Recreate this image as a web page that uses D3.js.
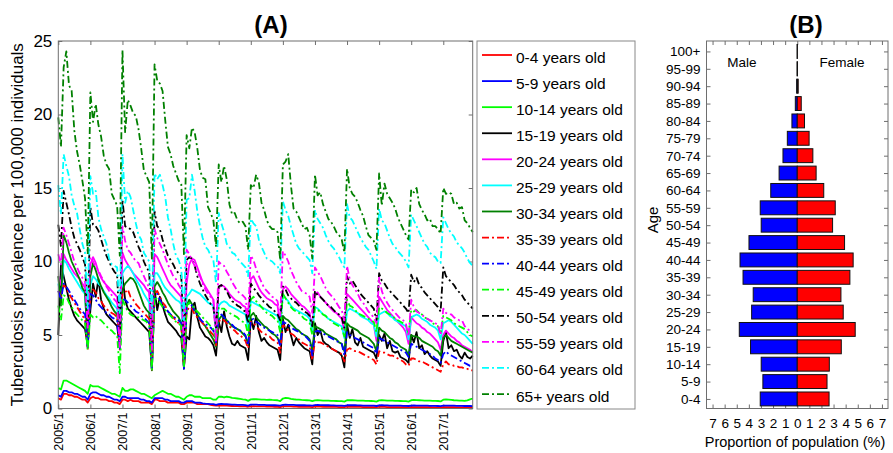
<!DOCTYPE html>
<html>
<head>
<meta charset="utf-8">
<script src="https://cdn.jsdelivr.net/npm/d3@7"></script>
<style>
  body { margin: 0; background: #fff; }
  svg { display: block; font-family: Arial, "Liberation Sans", sans-serif; }
</style>
</head>
<body>
<svg id="chart" width="893" height="453"></svg>
<script>
// ---- panel A data: monthly prevalence per 100,000, Jan 2005 .. Dec 2017 (one row per year)
const tickLabels = ["2005/1","2006/1","2007/1","2008/1","2009/1","2010/1","2011/1","2012/1","2013/1","2014/1","2015/1","2016/1","2017/1"];
const ageGroupNames = ["0-4 years old","5-9 years old","10-14 years old","15-19 years old","20-24 years old","25-29 years old","30-34 years old","35-39 years old","40-44 years old","45-49 years old","50-54 years old","55-59 years old","60-64 years old","65+ years old"];

const age0_4 = [
  0.7,0.6,1.0,1.0,0.9,0.9,0.8,0.8,0.7,0.6,0.6,0.4,
  0.7,0.8,0.7,0.7,0.6,0.6,0.6,0.5,0.5,0.4,0.4,0.3,
  0.6,0.6,0.5,0.6,0.5,0.5,0.5,0.4,0.4,0.4,0.4,0.3,
  0.6,0.6,0.5,0.5,0.5,0.4,0.4,0.4,0.4,0.4,0.3,0.3,
  0.4,0.4,0.4,0.4,0.3,0.3,0.3,0.3,0.3,0.25,0.22,0.2,
  0.2,0.22,0.2,0.19,0.18,0.17,0.16,0.16,0.15,0.15,0.14,0.12,
  0.15,0.16,0.15,0.15,0.14,0.14,0.13,0.13,0.13,0.12,0.12,0.1,
  0.14,0.15,0.14,0.14,0.13,0.13,0.12,0.12,0.12,0.11,0.11,0.1,
  0.13,0.13,0.13,0.12,0.12,0.12,0.11,0.11,0.11,0.1,0.1,0.09,
  0.12,0.12,0.12,0.11,0.11,0.11,0.1,0.1,0.1,0.1,0.09,0.09,
  0.11,0.11,0.11,0.1,0.1,0.1,0.1,0.09,0.09,0.09,0.09,0.08,
  0.1,0.1,0.1,0.1,0.09,0.09,0.09,0.09,0.08,0.08,0.08,0.08,
  0.09,0.1,0.09,0.09,0.09,0.08,0.08,0.08,0.08,0.08,0.07,0.07];
const age5_9 = [
  0.9,0.8,1.2,1.2,1.1,1.1,1.0,1.0,0.9,0.8,0.8,0.6,
  1.0,1.1,1.1,1.0,0.9,0.9,0.8,0.8,0.7,0.6,0.6,0.5,
  0.8,0.8,0.7,0.7,0.7,0.7,0.7,0.6,0.6,0.5,0.5,0.4,
  0.7,0.7,0.7,0.7,0.6,0.6,0.5,0.5,0.5,0.5,0.4,0.4,
  0.5,0.5,0.5,0.4,0.4,0.4,0.35,0.33,0.32,0.3,0.3,0.25,
  0.3,0.32,0.3,0.29,0.28,0.27,0.26,0.25,0.25,0.24,0.23,0.2,
  0.26,0.27,0.26,0.25,0.25,0.24,0.23,0.23,0.22,0.22,0.21,0.19,
  0.25,0.26,0.25,0.24,0.24,0.23,0.22,0.22,0.22,0.21,0.21,0.19,
  0.23,0.24,0.23,0.23,0.22,0.22,0.21,0.21,0.2,0.2,0.2,0.18,
  0.22,0.23,0.22,0.22,0.21,0.21,0.2,0.2,0.2,0.19,0.19,0.17,
  0.21,0.22,0.21,0.21,0.2,0.2,0.19,0.19,0.19,0.18,0.18,0.17,
  0.2,0.21,0.2,0.2,0.19,0.19,0.19,0.18,0.18,0.18,0.17,0.16,
  0.19,0.2,0.2,0.19,0.19,0.18,0.18,0.18,0.17,0.17,0.17,0.16];
const age10_14 = [
  1.4,1.3,1.9,1.9,1.8,1.7,1.6,1.5,1.4,1.3,1.2,1.0,
  1.6,1.5,1.5,1.5,1.4,1.3,1.2,1.1,1.0,1.0,0.9,0.8,
  1.4,1.2,1.2,1.3,1.3,1.2,1.1,1.0,1.0,0.9,0.8,0.7,
  0.9,1.0,1.1,1.2,1.1,1.0,1.0,0.9,0.8,0.8,0.7,0.6,
  0.8,0.9,0.9,0.8,0.8,0.8,0.7,0.7,0.7,0.7,0.6,0.6,
  0.8,0.8,0.75,0.8,0.78,0.72,0.7,0.68,0.65,0.62,0.6,0.52,
  0.62,0.64,0.63,0.62,0.6,0.6,0.59,0.6,0.58,0.57,0.56,0.5,
  0.68,0.72,0.7,0.66,0.63,0.61,0.6,0.58,0.57,0.56,0.55,0.5,
  0.55,0.56,0.55,0.54,0.53,0.53,0.52,0.52,0.51,0.5,0.5,0.47,
  0.56,0.57,0.56,0.55,0.54,0.53,0.53,0.52,0.52,0.51,0.5,0.47,
  0.55,0.56,0.55,0.54,0.54,0.53,0.52,0.52,0.51,0.5,0.5,0.47,
  0.56,0.58,0.57,0.56,0.55,0.54,0.53,0.53,0.52,0.52,0.51,0.48,
  0.6,0.62,0.6,0.58,0.56,0.55,0.54,0.53,0.52,0.55,0.62,0.68];
const age15_19 = [
  5.0,9.8,9.0,8.2,7.4,6.8,6.3,6.0,5.8,5.6,5.4,4.3,
  6.7,8.5,7.6,8.8,7.4,6.8,6.4,6.2,6.0,5.8,5.6,4.2,
  9.0,7.4,6.8,6.6,6.4,6.2,6.0,5.8,5.6,5.4,5.2,2.7,
  8.1,6.7,7.6,7.0,6.4,5.9,5.7,5.5,5.3,5.0,4.8,2.8,
  4.9,4.7,6.9,7.2,6.2,5.5,5.2,4.9,4.8,4.6,4.3,3.6,
  5.9,5.2,6.6,5.6,4.9,4.4,4.3,4.6,4.3,4.2,4.1,3.3,
  6.1,5.4,6.3,5.2,4.6,4.8,4.5,4.3,4.2,4.1,4.0,3.3,
  6.1,5.2,5.7,5.0,4.3,4.8,4.5,4.3,4.1,4.0,3.9,3.0,
  5.8,5.0,5.3,4.6,4.4,4.3,4.1,4.0,3.9,3.8,3.6,2.8,
  5.7,4.8,5.4,4.5,4.3,4.8,4.2,4.1,4.0,3.9,3.8,3.4,
  5.0,4.6,5.1,4.1,4.6,3.9,3.8,3.9,3.5,3.4,3.3,3.1,
  5.0,4.5,5.2,4.1,4.3,3.7,3.9,3.6,3.4,3.3,3.2,2.9,
  4.6,5.2,4.1,4.3,3.9,4.0,3.6,3.4,3.8,3.5,3.4,3.6];
const age20_24 = [
  9.0,8.4,10.5,10.1,9.8,9.5,9.2,9.0,8.8,8.5,8.2,4.5,
  9.8,10.3,9.9,9.3,8.9,8.6,8.4,8.2,8.0,7.8,7.6,4.1,
  10.6,10.1,9.8,9.5,9.2,9.0,8.8,8.6,8.4,8.1,7.9,4.0,
  10.5,10.3,9.9,9.5,9.1,8.7,8.4,8.2,8.0,7.8,7.6,4.2,
  8.5,9.8,10.2,10.1,9.6,9.1,8.6,8.3,8.0,7.7,7.4,5.5,
  8.2,8.4,8.3,8.1,7.8,7.6,7.4,7.3,7.2,7.0,6.9,5.6,
  8.8,9.0,8.6,8.2,7.9,7.7,7.5,7.4,7.3,7.1,7.0,5.6,
  8.1,8.3,8.1,7.8,7.6,7.4,7.2,7.0,6.9,6.7,6.5,5.4,
  7.8,7.9,7.6,7.4,7.2,7.0,6.8,6.6,6.5,6.3,6.1,5.2,
  7.8,7.6,7.4,7.2,7.0,6.8,6.6,6.4,6.2,6.0,5.7,4.6,
  7.6,7.3,7.0,6.7,6.5,6.3,6.1,5.9,5.7,5.5,5.2,4.4,
  6.2,6.0,5.8,5.7,5.5,5.4,5.2,5.1,4.9,4.7,4.5,4.0,
  5.0,5.3,5.1,4.9,4.8,4.6,4.5,4.3,4.2,4.1,4.0,3.8];
const age25_29 = [
  8.5,7.5,10.1,9.9,9.5,9.2,8.9,8.6,8.3,8.0,7.8,4.4,
  8.4,9.0,8.8,8.5,8.3,8.0,7.7,7.5,7.2,7.0,6.8,4.3,
  9.2,9.5,9.7,9.5,9.2,8.8,8.5,8.2,7.8,7.5,7.2,2.8,
  9.2,9.2,8.9,8.5,8.2,8.0,7.8,7.6,7.4,7.3,7.1,3.0,
  7.6,7.8,8.1,8.0,7.9,7.8,7.6,7.4,7.2,7.1,7.0,5.3,
  7.0,7.2,7.3,7.2,7.0,6.9,6.8,6.7,6.6,6.5,6.4,5.5,
  7.3,7.2,7.1,7.0,6.9,6.8,6.7,6.6,6.5,6.4,6.3,5.6,
  7.7,7.5,7.3,7.0,6.8,6.7,6.6,6.5,6.4,6.3,6.1,5.3,
  6.9,6.8,6.6,6.4,6.3,6.1,6.0,5.9,5.8,5.7,5.6,4.8,
  6.6,6.8,6.7,6.6,6.5,6.3,6.2,6.1,6.0,5.8,5.7,4.9,
  6.4,6.5,6.6,6.5,6.3,6.2,6.0,5.9,5.8,5.7,5.6,4.7,
  6.2,6.3,6.4,6.3,6.1,6.0,5.9,5.7,5.6,5.5,5.3,4.7,
  5.8,5.9,6.0,5.9,5.7,5.5,5.3,5.1,5.0,4.8,4.6,4.4];
const age30_34 = [
  9.0,7.0,11.8,11.3,10.6,10.0,9.6,9.2,8.8,8.2,7.9,4.2,
  9.0,9.9,9.4,8.8,8.3,7.9,7.6,7.3,6.9,6.6,6.4,4.2,
  8.1,8.5,8.7,8.9,8.8,8.5,8.0,7.5,7.0,6.7,6.5,2.6,
  8.3,8.6,8.3,7.9,7.6,7.2,6.9,6.6,6.4,6.2,5.8,2.7,
  7.0,7.4,7.1,6.7,6.4,6.1,5.8,5.6,5.3,5.0,4.7,4.2,
  6.0,6.3,6.2,6.0,5.8,5.6,5.5,5.4,5.3,5.1,4.9,4.4,
  6.3,6.5,6.2,6.0,5.8,5.6,5.5,5.3,5.1,5.0,4.8,4.4,
  6.3,6.1,6.0,5.8,5.6,5.4,5.3,5.1,5.0,4.9,4.7,4.0,
  5.6,5.5,5.4,5.3,5.1,5.0,4.9,4.8,4.7,4.5,4.4,3.9,
  5.8,5.6,5.5,5.4,5.3,5.1,5.0,4.9,4.8,4.6,4.4,3.9,
  5.5,5.3,5.2,5.0,4.8,4.7,4.5,4.4,4.2,4.1,4.0,3.6,
  5.0,4.9,4.9,4.8,4.6,4.5,4.4,4.3,4.2,4.0,3.9,3.6,
  4.8,5.0,4.8,4.6,4.5,4.4,4.3,4.2,4.1,4.0,3.9,3.8];
const age35_39 = [
  8.0,7.6,8.4,8.2,7.8,7.5,7.2,6.9,6.6,6.3,6.1,4.0,
  7.8,8.1,7.9,7.5,7.3,7.0,6.8,6.6,6.5,6.4,6.2,4.0,
  7.8,7.9,8.1,7.6,7.4,7.1,6.9,6.7,6.5,6.3,6.1,2.6,
  7.8,8.0,7.6,7.2,7.0,6.6,6.4,6.2,6.0,5.8,5.6,2.8,
  6.6,6.9,6.8,6.4,6.2,6.0,5.8,5.6,5.4,5.2,5.0,4.3,
  5.9,6.1,6.0,5.8,5.6,5.4,5.3,5.1,5.0,4.8,4.6,4.1,
  5.9,5.8,5.6,5.4,5.2,5.1,5.0,4.9,4.7,4.6,4.5,3.8,
  5.7,5.5,5.3,5.1,5.0,4.8,4.7,4.5,4.4,4.3,4.2,3.3,
  4.6,4.5,4.5,4.4,4.3,4.2,4.1,4.0,3.9,3.8,3.7,3.2,
  4.0,4.1,4.0,3.9,3.9,3.8,3.7,3.6,3.5,3.4,3.3,3.0,
  3.9,3.8,3.8,3.7,3.6,3.6,3.5,3.4,3.3,3.2,3.0,2.9,
  3.4,3.4,3.3,3.2,3.2,3.1,3.0,2.9,2.8,2.7,2.6,2.5,
  3.0,3.2,3.0,3.0,2.9,2.9,2.8,2.8,2.7,2.7,2.6,2.6];
const age40_44 = [
  8.0,7.4,8.5,8.3,8.0,7.7,7.4,7.1,6.8,6.6,6.4,4.1,
  7.8,7.7,7.4,7.1,6.9,6.7,6.5,6.4,6.2,6.1,6.0,4.0,
  7.4,7.4,7.2,7.0,6.8,6.6,6.5,6.3,6.2,6.0,5.8,2.6,
  7.6,7.8,7.4,7.0,6.8,6.6,6.4,6.3,6.1,6.0,5.8,2.7,
  6.9,7.2,7.0,6.6,6.4,6.1,5.9,5.8,5.6,5.5,5.3,4.5,
  6.1,6.4,6.2,6.0,5.8,5.7,5.5,5.4,5.3,5.2,5.0,4.3,
  6.0,6.1,5.9,5.8,5.6,5.5,5.4,5.3,5.2,5.1,5.0,4.2,
  5.9,5.8,5.7,5.5,5.4,5.3,5.2,5.1,5.0,4.8,4.6,3.6,
  5.2,5.3,5.2,5.1,5.0,4.9,4.8,4.7,4.6,4.5,4.4,3.6,
  5.2,5.0,4.9,4.8,4.7,4.6,4.5,4.4,4.3,4.2,4.1,3.7,
  4.8,4.7,4.6,4.5,4.4,4.3,4.2,4.1,4.0,3.9,3.8,3.5,
  4.4,4.3,4.2,4.1,4.0,3.9,3.8,3.7,3.6,3.4,3.3,3.1,
  3.7,3.9,3.7,3.6,3.5,3.4,3.3,3.2,3.1,3.0,2.9,2.9];
const age45_49 = [
  7.0,6.0,7.7,7.6,7.2,6.9,6.6,6.4,6.2,6.0,5.8,4.0,
  6.4,6.2,6.3,6.1,6.0,5.8,5.6,5.4,5.3,5.1,5.0,2.4,
  7.4,7.0,6.6,6.4,6.3,6.2,6.2,6.1,6.0,5.9,5.6,2.6,
  7.6,7.4,7.2,6.9,6.7,6.5,6.3,6.1,5.9,5.8,5.6,2.8,
  7.0,7.2,7.0,6.8,6.6,6.4,6.2,6.0,5.8,5.6,5.4,4.6,
  6.9,6.8,6.8,6.6,6.5,6.4,6.3,6.2,6.0,5.9,5.8,5.0,
  7.4,7.6,7.3,7.1,6.9,6.7,6.5,6.4,6.3,6.1,6.0,5.2,
  7.8,7.5,7.2,6.9,6.7,6.6,6.5,6.3,6.1,6.0,5.8,5.0,
  6.9,6.7,6.6,6.4,6.3,6.1,6.0,5.8,5.7,5.6,5.5,4.9,
  7.4,7.0,6.9,6.7,6.5,6.4,6.3,6.2,6.1,6.0,5.9,5.2,
  6.9,6.8,6.7,6.5,6.4,6.3,6.1,6.0,5.9,5.8,5.7,5.1,
  6.7,6.6,6.7,6.5,6.4,6.2,6.1,6.0,5.8,5.7,5.6,5.1,
  6.3,6.2,6.1,6.0,5.8,5.7,5.6,5.5,5.4,5.2,5.0,4.9];
const age50_54 = [
  12.5,11.0,14.8,14.0,13.2,12.3,11.6,11.2,10.8,10.3,9.8,6.0,
  13.7,12.5,12.4,12.1,11.5,10.9,10.4,10.0,9.6,9.3,9.1,5.0,
  14.2,12.4,12.3,12.2,12.0,11.5,11.0,10.6,10.0,9.6,9.3,4.5,
  13.4,12.4,12.2,11.5,10.9,10.4,10.1,9.8,9.4,9.2,9.0,4.5,
  10.1,10.3,10.2,9.7,9.0,8.5,8.1,7.7,7.4,7.1,6.9,5.5,
  8.3,8.4,8.2,8.0,7.6,7.3,7.2,7.0,6.9,6.7,6.6,5.8,
  8.5,8.2,8.0,7.7,7.5,7.2,7.1,6.9,6.8,6.6,6.4,6.0,
  8.3,8.1,7.7,7.5,7.3,7.2,7.0,6.8,6.6,6.5,6.3,5.6,
  8.0,7.7,7.6,7.4,7.2,7.0,6.9,6.7,6.5,6.4,6.2,5.5,
  9.0,8.5,8.7,8.4,8.1,7.8,7.6,7.4,7.2,7.0,6.8,6.0,
  9.2,8.7,8.5,8.2,8.0,7.8,7.6,7.4,7.2,7.0,6.8,6.5,
  9.1,8.6,8.9,8.4,8.2,7.9,7.7,7.5,7.3,7.1,6.9,6.6,
  9.6,9.0,8.8,8.6,8.4,8.1,7.9,7.7,7.4,7.2,7.0,6.8];
const age55_59 = [
  10.5,9.8,12.3,11.8,11.2,10.6,10.0,9.6,9.2,8.9,8.6,5.5,
  10.3,10.0,9.6,9.4,9.0,8.7,8.3,8.0,7.7,7.4,7.2,4.2,
  12.4,11.4,10.8,10.6,10.3,10.0,9.9,9.4,9.0,8.6,8.2,4.0,
  12.2,11.6,11.2,10.8,10.3,9.8,9.4,9.0,8.8,8.4,8.1,4.0,
  10.8,10.5,10.1,9.7,9.2,9.0,8.5,8.1,7.8,7.6,7.4,4.5,
  10.0,9.8,9.7,9.3,9.0,8.6,8.3,8.0,7.8,7.7,7.5,6.3,
  10.4,10.1,9.5,9.0,8.6,8.2,8.0,7.8,7.6,7.5,7.3,6.3,
  10.7,10.4,10.0,9.4,9.0,8.6,8.3,8.0,7.9,7.8,7.6,6.5,
  9.6,9.3,9.0,8.6,8.2,7.9,7.7,7.5,7.2,6.9,6.7,6.0,
  9.7,8.8,8.4,8.1,7.8,7.4,7.2,6.9,6.6,6.4,6.2,5.8,
  8.9,8.0,7.5,7.2,6.9,6.7,6.5,6.3,6.1,6.0,5.8,4.9,
  7.4,6.9,6.6,6.5,6.4,6.2,6.1,6.0,5.9,5.8,5.7,5.0,
  6.8,6.5,6.4,6.4,6.2,6.1,6.0,6.0,5.6,5.4,5.3,5.2];
const age60_64 = [
  15.2,13.2,17.3,16.5,15.8,14.5,13.8,13.3,12.2,11.2,10.6,6.8,
  15.8,14.6,14.8,13.0,12.2,11.7,11.2,10.2,9.8,9.7,9.6,6.5,
  17.3,14.0,14.8,14.4,13.5,12.6,11.8,11.5,10.6,10.3,10.0,6.5,
  16.0,15.6,15.9,15.2,14.4,13.0,12.2,11.2,10.4,10.1,9.5,6.0,
  14.2,14.3,15.9,14.8,13.4,12.4,11.6,11.0,10.8,10.4,10.1,8.5,
  13.3,12.6,12.0,11.2,11.0,10.6,10.5,10.2,10.0,9.8,9.6,9.0,
  12.9,12.6,12.4,11.5,11.0,10.6,10.2,10.1,10.0,9.8,9.7,9.2,
  14.1,13.5,13.1,12.4,11.8,11.2,10.9,10.7,10.5,10.3,10.1,9.2,
  13.5,12.9,12.6,12.3,11.8,11.4,11.1,10.9,10.6,10.3,9.9,9.6,
  13.9,13.0,12.8,12.4,12.0,11.6,11.3,11.0,10.8,10.4,10.0,9.5,
  13.6,12.8,12.6,12.1,11.6,11.2,11.0,10.7,10.5,10.3,10.0,9.6,
  13.2,12.8,12.4,12.0,11.6,11.2,11.0,10.6,10.4,10.3,10.0,9.9,
  13.0,12.6,12.2,11.9,11.7,11.3,11.1,10.9,10.6,10.2,9.9,9.7];
const age65plus = [
  19.8,17.8,23.2,24.3,22.0,21.6,18.9,17.5,16.6,15.5,14.3,10.5,
  21.5,19.5,20.7,19.3,18.5,17.2,16.6,16.3,14.6,14.2,13.8,10.4,
  24.4,18.8,21.0,20.6,20.1,19.9,19.0,17.7,16.2,15.8,15.4,10.2,
  23.4,22.3,22.1,21.6,19.6,17.8,17.3,16.5,16.0,15.5,15.3,10.5,
  18.6,17.7,19.1,18.8,17.7,16.2,15.7,15.6,13.7,13.3,12.8,11.0,
  16.6,15.4,16.5,15.6,13.9,13.2,13.3,12.8,12.6,12.7,12.4,10.8,
  15.2,15.0,15.9,15.4,14.0,13.5,12.8,12.4,12.2,12.2,12.0,10.1,
  16.6,16.8,17.3,15.2,13.6,13.4,13.0,12.6,12.2,12.3,11.8,10.2,
  15.9,14.5,14.7,13.9,13.4,12.9,12.7,12.4,12.0,11.8,11.5,10.6,
  16.3,15.0,14.6,14.4,14.0,13.5,13.1,12.4,11.8,11.6,11.4,10.8,
  16.0,13.8,15.3,14.6,14.3,14.0,13.6,13.0,12.6,12.2,11.8,11.5,
  14.9,14.7,15.0,13.9,13.5,13.2,12.8,12.9,12.4,12.4,12.2,11.9,
  15.0,14.6,14.7,14.6,13.9,14.0,13.6,13.7,12.8,12.6,12.3,12.0];

// ---- panel B data: share of population (%) by age group
const pyramidAges = ["0-4","5-9","10-14","15-19","20-24","25-29","30-34","35-39","40-44","45-49","50-54","55-59","60-64","65-69","70-74","75-79","80-84","85-89","90-94","95-99","100+"];
const malePct = [3.06,2.84,2.98,3.86,4.79,3.77,3.64,4.48,4.73,3.99,2.98,3.06,2.19,1.50,1.18,0.82,0.44,0.16,0.05,0.01,0.005];
const femalePct = [2.63,2.46,2.65,3.64,4.79,3.80,3.61,4.35,4.62,3.91,2.92,3.14,2.19,1.56,1.29,0.98,0.60,0.33,0.08,0.02,0.005];

const seriesValues = [age0_4, age5_9, age10_14, age15_19, age20_24, age25_29, age30_34,
  age35_39, age40_44, age45_49, age50_54, age55_59, age60_64, age65plus];

// ---- styles
const lineColors = ['#ff0000','#0000ff','#00ff00','#000000','#ff00ff','#00ffff','#008000',
  '#ff0000','#0000ff','#00ff00','#000000','#ff00ff','#00ffff','#008000'];
const dashed = '7,3,2,3';
const boxColor = '#6e6e6e';
const textColor = '#000';

const svg = d3.select('#chart');

// ===================== panel A =====================
const A = {left: 58.3, right: 472.7, top: 41, bottom: 408.5};
const x = d3.scaleLinear().domain([0, age0_4.length - 1]).range([A.left, A.right]);
const y = d3.scaleLinear().domain([0, 25]).range([A.bottom, A.top]);
const yearTicks = tickLabels.map((d, i) => i * 12);

const gA = svg.append('g').attr('class', 'panel-a');

// axes (inward ticks, box style)
const yAxis = gA.append('g').attr('transform', `translate(${A.left},0)`)
  .call(d3.axisLeft(y).tickValues([0,5,10,15,20,25]).tickSize(-4).tickPadding(6));
yAxis.selectAll('text').attr('font-size', 17).attr('fill', textColor).attr('font-family', 'Arial, "Liberation Sans", sans-serif');

gA.append('g').attr('transform', `translate(${A.right},0)`)
  .call(d3.axisRight(y).tickValues([0,5,10,15,20,25]).tickSize(-4).tickFormat(''));
gA.append('g').attr('transform', `translate(0,${A.top})`)
  .call(d3.axisTop(x).tickValues(yearTicks).tickSize(-4).tickFormat(''));

const xAxis = gA.append('g').attr('transform', `translate(0,${A.bottom})`)
  .call(d3.axisBottom(x).tickValues(yearTicks).tickSize(-4).tickFormat((d, i) => tickLabels[i]));
xAxis.selectAll('text')
  .attr('transform', 'rotate(-90)')
  .attr('text-anchor', 'end')
  .attr('x', -4).attr('y', 0).attr('dy', '0.36em')
  .attr('font-size', 12.5).attr('fill', textColor).attr('font-family', 'Arial, "Liberation Sans", sans-serif');

gA.selectAll('.domain').remove();
gA.selectAll('.tick line').attr('stroke', boxColor);

// series lines
const line = d3.line().x((d, i) => x(i)).y(d => y(d));
gA.selectAll('.series').data(seriesValues)
  .join('path').attr('class', 'series')
  .attr('d', line)
  .attr('fill', 'none')
  .attr('stroke', (d, i) => lineColors[i])
  .attr('stroke-width', 1.8)
  .attr('stroke-linejoin', 'round')
  .attr('stroke-dasharray', (d, i) => i >= 7 ? dashed : null);

gA.append('rect')
  .attr('x', A.left).attr('y', A.top)
  .attr('width', A.right - A.left).attr('height', A.bottom - A.top)
  .attr('fill', 'none').attr('stroke', boxColor).attr('stroke-width', 1);

gA.append('text')
  .attr('x', 271).attr('y', 33)
  .attr('text-anchor', 'middle').attr('font-size', 24).attr('font-weight', 'bold')
  .attr('fill', textColor).text('(A)');

gA.append('text')
  .attr('transform', `translate(23,${(A.top + A.bottom) / 2}) rotate(-90)`)
  .attr('text-anchor', 'middle').attr('font-size', 17).attr('fill', textColor)
  .text('Tuberculosis prevalence per 100,000 individuals');

// legend
const legendBox = {x: 477, y: 41, w: 158, h: 368};
const legend = gA.append('g').attr('class', 'legend');
legend.append('rect')
  .attr('x', legendBox.x).attr('y', legendBox.y)
  .attr('width', legendBox.w).attr('height', legendBox.h)
  .attr('fill', '#fff').attr('stroke', '#888').attr('stroke-width', 1);

const legendStep = 26.08;
const item = legend.selectAll('.legend-item').data(ageGroupNames)
  .join('g').attr('class', 'legend-item')
  .attr('transform', (d, i) => `translate(${legendBox.x},${57 + i * legendStep})`);
item.append('path')
  .attr('d', 'M5 -2 H35')
  .attr('stroke', (d, i) => lineColors[i])
  .attr('stroke-width', 1.8)
  .attr('stroke-dasharray', (d, i) => i >= 7 ? dashed : null);
item.append('text')
  .attr('x', 39).attr('y', 5.5)
  .attr('font-size', 15.5).attr('fill', textColor)
  .text(d => d);

// ===================== panel B =====================
const B = {left: 706.5, right: 888, top: 41, bottom: 408.5};
const xB = d3.scaleLinear().domain([-7.5, 7.5]).range([B.left, B.right]);
const yB = d3.scaleLinear().domain([-0.55, 20.6]).range([B.bottom, B.top]);
const barH = 0.8 * (yB(0) - yB(1));
const ageIdx = pyramidAges.map((d, i) => i);
const pctTicks = d3.range(-7, 8);

const gB = svg.append('g').attr('class', 'panel-b');

const yAxisB = gB.append('g').attr('transform', `translate(${B.left},0)`)
  .call(d3.axisLeft(yB).tickValues(ageIdx).tickSize(-4).tickPadding(6).tickFormat(i => pyramidAges[i]));
yAxisB.selectAll('text').attr('font-size', 13.5).attr('fill', textColor).attr('font-family', 'Arial, "Liberation Sans", sans-serif');
gB.append('g').attr('transform', `translate(${B.right},0)`)
  .call(d3.axisRight(yB).tickValues(ageIdx).tickSize(-4).tickFormat(''));
gB.append('g').attr('transform', `translate(0,${B.top})`)
  .call(d3.axisTop(xB).tickValues(pctTicks).tickSize(-4).tickFormat(''));
const xAxisB = gB.append('g').attr('transform', `translate(0,${B.bottom})`)
  .call(d3.axisBottom(xB).tickValues(pctTicks).tickSize(-4).tickPadding(10).tickFormat(d => Math.abs(d)));
xAxisB.selectAll('text').attr('font-size', 13.5).attr('fill', textColor).attr('font-family', 'Arial, "Liberation Sans", sans-serif');

gB.selectAll('.domain').remove();
gB.selectAll('.tick line').attr('stroke', boxColor);

gB.selectAll('.bar-male').data(malePct)
  .join('rect').attr('class', 'bar-male')
  .attr('x', d => xB(-d)).attr('width', d => xB(0) - xB(-d))
  .attr('y', (d, i) => yB(i) - barH / 2).attr('height', barH)
  .attr('fill', '#0000ff').attr('stroke', '#111').attr('stroke-width', 1);

gB.selectAll('.bar-female').data(femalePct)
  .join('rect').attr('class', 'bar-female')
  .attr('x', xB(0)).attr('width', d => xB(d) - xB(0))
  .attr('y', (d, i) => yB(i) - barH / 2).attr('height', barH)
  .attr('fill', '#ff0000').attr('stroke', '#111').attr('stroke-width', 1);

gB.append('rect')
  .attr('x', B.left).attr('y', B.top)
  .attr('width', B.right - B.left).attr('height', B.bottom - B.top)
  .attr('fill', 'none').attr('stroke', boxColor).attr('stroke-width', 1);

gB.append('text').attr('x', 742).attr('y', 66.5).attr('text-anchor', 'middle')
  .attr('font-size', 13.5).attr('fill', textColor).text('Male');
gB.append('text').attr('x', 842).attr('y', 66.5).attr('text-anchor', 'middle')
  .attr('font-size', 13.5).attr('fill', textColor).text('Female');

gB.append('text')
  .attr('x', 806).attr('y', 33)
  .attr('text-anchor', 'middle').attr('font-size', 24).attr('font-weight', 'bold')
  .attr('fill', textColor).text('(B)');

gB.append('text')
  .attr('transform', 'translate(658,220) rotate(-90)')
  .attr('text-anchor', 'middle').attr('font-size', 15).attr('fill', textColor)
  .text('Age');

gB.append('text')
  .attr('x', 795).attr('y', 447)
  .attr('text-anchor', 'middle').attr('font-size', 14.5).attr('fill', textColor)
  .text('Proportion of population (%)');
</script>
</body>
</html>
